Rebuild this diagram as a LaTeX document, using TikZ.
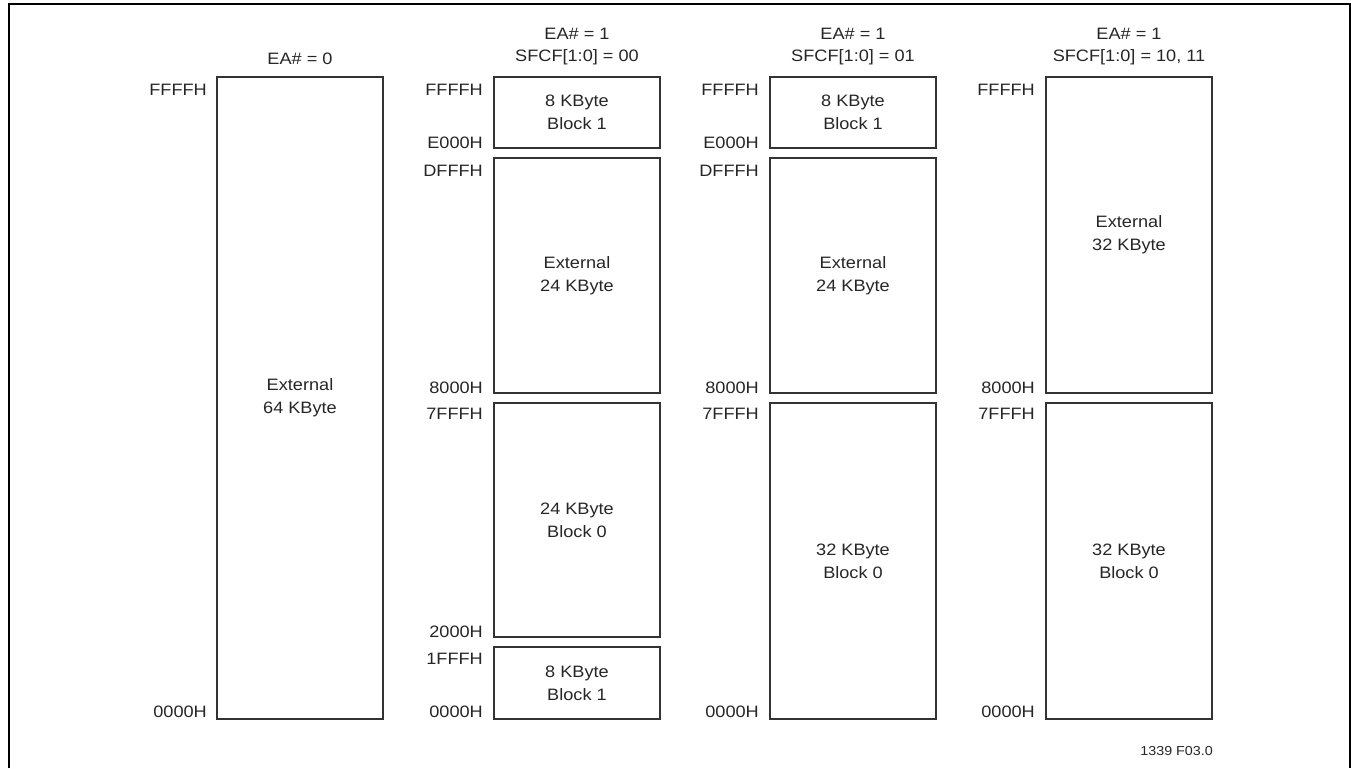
\documentclass[tikz,border=0pt]{standalone}
\usepackage{fontspec}
\setmainfont{Liberation Sans}[FakeStretch=1.1]
\begin{document}
\begin{tikzpicture}[x=1pt,y=-1pt,
  every node/.style={inner sep=0pt,text=black!85,font=\fontsize{16.5}{23}\selectfont},
  addr/.style={anchor=base east},
  blk/.style={align=center},
  hdr/.style={align=center,anchor=south,font=\fontsize{16.5}{22}\selectfont},
  box/.style={line width=1.4pt,draw=black!80}]
\useasboundingbox (0,0) rectangle (1351,768);
\draw[line width=2pt] (9,768) -- (9,4) -- (1350,4) -- (1350,768);

% EA# = 0
\draw[box] (217,77) rectangle (383,719);
\node[hdr] (h0) at (300,65) {EA\# = 0};
\node[blk] (ext64) at (300,398) {External\\64 KByte};
\node[addr] (a0top) at (207,95) {FFFFH};
\node[addr] (a0bot) at (207,717) {0000H};

% EA# = 1, SFCF = 00
\draw[box] (494,77) rectangle (660,148);
\draw[box] (494,158) rectangle (660,393);
\draw[box] (494,403) rectangle (660,637);
\draw[box] (494,647) rectangle (660,719);
\node[hdr] (h1) at (577,65) {EA\# = 1\\SFCF[1:0] = 00};
\node[blk] (b1hi) at (577,112.5) {8 KByte\\Block 1};
\node[blk] (ext24a) at (577,275.5) {External\\24 KByte};
\node[blk] (b0a) at (577,520) {24 KByte\\Block 0};
\node[blk] (b1lo) at (577,683) {8 KByte\\Block 1};
\node[addr] (a1ffff) at (483,95) {FFFFH};
\node[addr] (a1e000) at (483,148) {E000H};
\node[addr] (a1dfff) at (483,176) {DFFFH};
\node[addr] (a18000) at (483,393) {8000H};
\node[addr] (a17fff) at (483,419) {7FFFH};
\node[addr] (a12000) at (483,637) {2000H};
\node[addr] (a11fff) at (483,664) {1FFFH};
\node[addr] (a10000) at (483,717) {0000H};

% EA# = 1, SFCF = 01
\draw[box] (770,77) rectangle (936,148);
\draw[box] (770,158) rectangle (936,393);
\draw[box] (770,403) rectangle (936,719);
\node[hdr] (h2) at (853,65) {EA\# = 1\\SFCF[1:0] = 01};
\node[blk] (b1c) at (853,112.5) {8 KByte\\Block 1};
\node[blk] (ext24b) at (853,275.5) {External\\24 KByte};
\node[blk] (b0b) at (853,561) {32 KByte\\Block 0};
\node[addr] (a2ffff) at (759,95) {FFFFH};
\node[addr] (a2e000) at (759,148) {E000H};
\node[addr] (a2dfff) at (759,176) {DFFFH};
\node[addr] (a28000) at (759,393) {8000H};
\node[addr] (a27fff) at (759,419) {7FFFH};
\node[addr] (a20000) at (759,717) {0000H};

% EA# = 1, SFCF = 10, 11
\draw[box] (1046,77) rectangle (1212,393);
\draw[box] (1046,403) rectangle (1212,719);
\node[hdr] (h3) at (1129,65) {EA\# = 1\\SFCF[1:0] = 10, 11};
\node[blk] (ext32) at (1129,235) {External\\32 KByte};
\node[blk] (b0c) at (1129,561) {32 KByte\\Block 0};
\node[addr] (a3ffff) at (1035,95) {FFFFH};
\node[addr] (a38000) at (1035,393) {8000H};
\node[addr] (a37fff) at (1035,419) {7FFFH};
\node[addr] (a30000) at (1035,717) {0000H};

\node[anchor=east,font=\fontsize{13}{15}\selectfont] (fig) at (1213,751) {1339 F03.0};
\end{tikzpicture}
\end{document}
